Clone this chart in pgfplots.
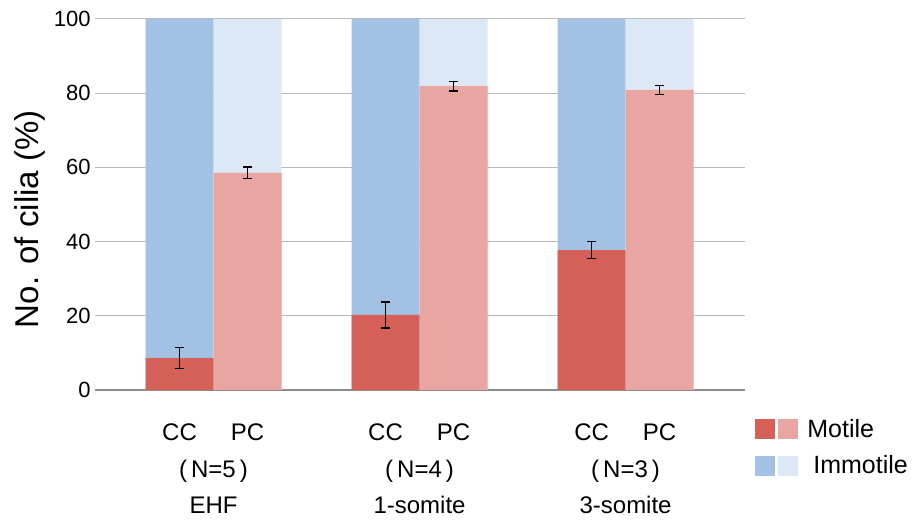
\documentclass[border=0pt]{standalone}
\usepackage{pgfplots}
\pgfplotsset{compat=1.18}
\usepackage{fontspec}
\setmainfont{Liberation Sans}
\definecolor{cmot}{RGB}{212,96,88}
\definecolor{cimm}{RGB}{163,193,227}
\definecolor{pmot}{RGB}{232,165,162}
\definecolor{pimm}{RGB}{221,232,246}
\begin{document}
\begin{tikzpicture}
\begin{axis}[
  x=68pt, y=3.71pt,
  xmin=-1.24, xmax=8.32, ymin=0, ymax=100,
  clip=false,
  axis line style={draw=none},
  /pgf/number format/assume math mode=true,
  ytick={20,40,60,80,100},
  extra y ticks={0},
  extra y tick labels={0},
  extra y tick style={grid style={color=black!45, line width=1.4pt}},
  ymajorgrids,
  grid style={color=black!28, line width=0.9pt},
  major tick length=0pt,
  yticklabel style={font=\fontsize{22}{26}\selectfont, xshift=-1pt},
  xtick={0,1,3.03,4.03,6.06,7.06},
  xticklabels={CC,PC,CC,PC,CC,PC},
  xticklabel style={font=\fontsize{24}{35.5}\selectfont, yshift=-30pt},
  extra x ticks={0.5,3.53,6.56},
  extra x tick labels={{(\,N=5\,)\\EHF},{(\,N=4\,)\\1-somite},{(\,N=3\,)\\3-somite}},
  extra x tick style={xticklabel style={yshift=-37pt, align=center}},
  ylabel={No. of cilia (\%)},
  ylabel style={font=\fontsize{33}{38}\selectfont, at={(axis description cs:-0.1,0.46)}, anchor=center},
  ybar, bar width=1, bar shift=0pt,
  legend style={at={(axis description cs:1.01,-0.067)}, anchor=north west, draw=none, fill=none,
    font=\fontsize{25}{30}\selectfont, row sep=13pt},
  legend cell align=left,
]
% Immotile (full bars to 100)
\addplot[fill=cimm, draw=none, forget plot] coordinates {(0,100) (3.03,100) (6.06,100)};
\addplot[fill=pimm, draw=none, forget plot] coordinates {(1,100) (4.03,100) (7.06,100)};
% Motile
\addplot[fill=cmot, draw=none, forget plot,
  error bars/.cd, y dir=both, y explicit,
  error bar style={draw=black, line width=1.3pt},
  error mark options={draw=black, rotate=90, mark size=4.5pt, line width=1.3pt}]
  coordinates {(0,8.6) +- (0,2.9) (3.03,20.2) +- (0,3.5) (6.06,37.7) +- (0,2.3)};
\addplot[fill=pmot, draw=none, forget plot,
  error bars/.cd, y dir=both, y explicit,
  error bar style={draw=black, line width=1.3pt},
  error mark options={draw=black, rotate=90, mark size=4.5pt, line width=1.3pt}]
  coordinates {(1,58.5) +- (0,1.6) (4.03,81.9) +- (0,1.3) (7.06,80.9) +- (0,1.2)};
\addlegendimage{legend image code/.code={
  \fill[cmot] (0pt,-9.5pt) rectangle (19pt,9.5pt);
  \fill[pmot] (23pt,-9.5pt) rectangle (42pt,9.5pt);}}
\addlegendentry{\hspace*{8pt}Motile}
\addlegendimage{legend image code/.code={
  \fill[cimm] (0pt,-9.5pt) rectangle (19pt,9.5pt);
  \fill[pimm] (23pt,-9.5pt) rectangle (42pt,9.5pt);}}
\addlegendentry{\hspace*{14pt}Immotile}
\coordinate (bbTL) at (axis cs:-2.64,105.1);
\coordinate (bbBR) at (axis cs:10.875,-36.1);
\end{axis}
\pgfresetboundingbox
\path[use as bounding box] (bbTL) rectangle (bbBR);
\end{tikzpicture}
\end{document}
